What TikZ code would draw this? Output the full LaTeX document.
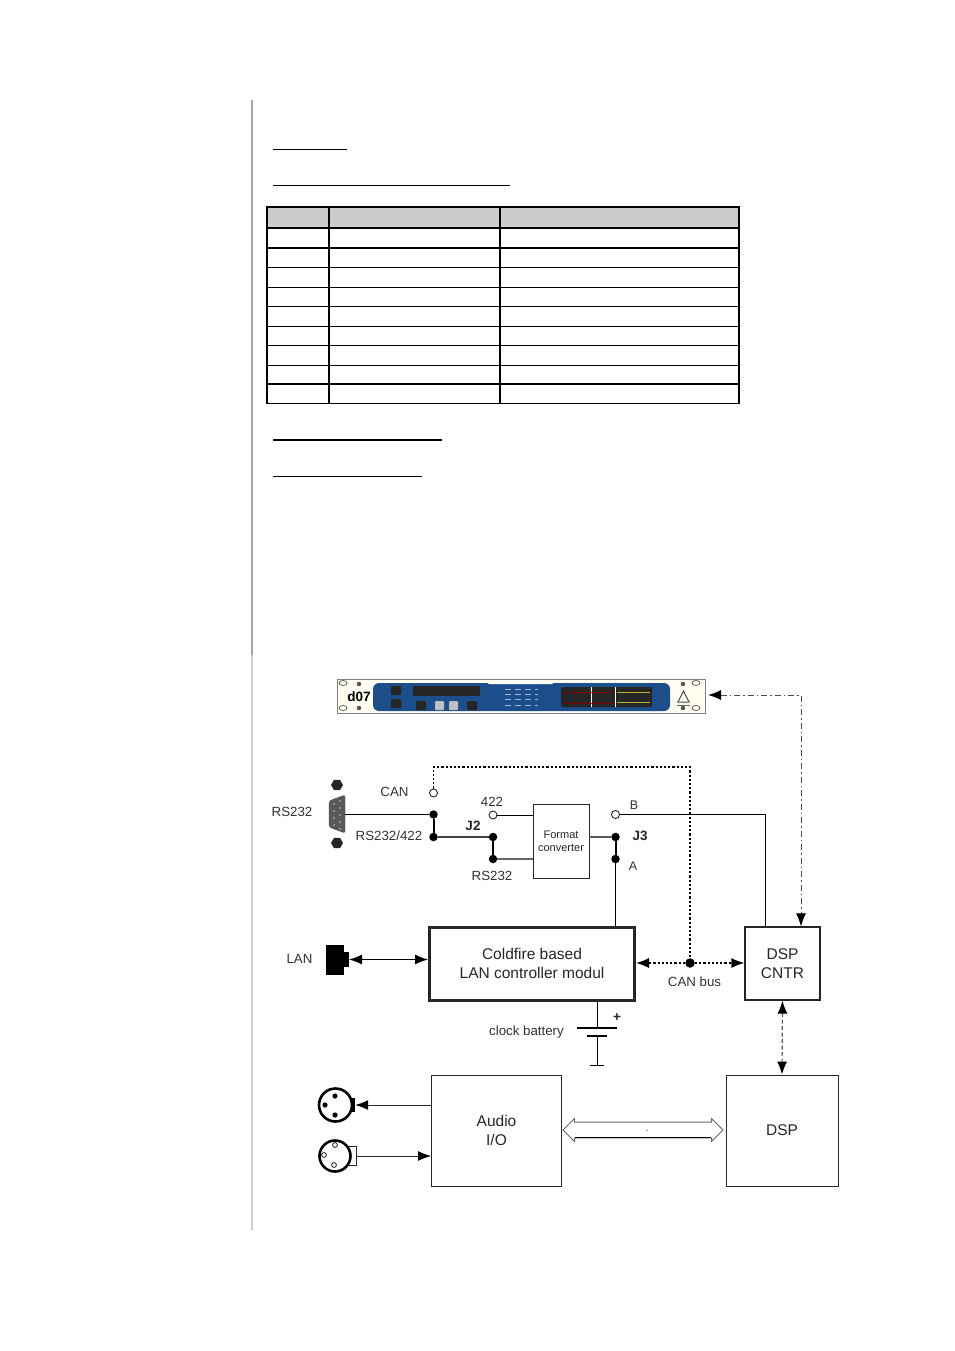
\documentclass[tikz,border=0pt]{standalone}
\usepackage{fontspec}
\setmainfont{Liberation Sans}
\usetikzlibrary{arrows.meta,positioning,shapes.arrows,shapes.geometric}
\definecolor{panelblue}{RGB}{28,78,140}
\tikzset{
  blockbox/.style={rectangle, draw=black!85, line width=1.2pt, fill=white, align=center, inner sep=0pt, font=\fontsize{15.5}{19}\selectfont, text=black!85},
  textlabel/.style={inner sep=0pt, font=\fontsize{13.3}{15}\selectfont, text=black!80},
  jlabel/.style={inner sep=0pt, font=\fontsize{13.5}{15}\selectfont\bfseries, text=black!85},
  soliddot/.style={circle, fill=black, inner sep=0pt, minimum size=8.5pt},
  opendot/.style={circle, draw=black!85, fill=white, line width=0.9pt, inner sep=0pt, minimum size=8pt},
  bothtips/.style={{Latex[length=13pt,width=10pt,color=black]}-{Latex[length=13pt,width=10pt,color=black]}},
  endtip/.style={-{Latex[length=13pt,width=10pt,color=black]}},
  canline/.style={line width=1.4pt, dash pattern=on 2.2pt off 2pt}
}
\begin{document}
\begin{tikzpicture}[x=1pt,y=-1pt]
\useasboundingbox[fill=white] (0,0) rectangle (954,1351);

% margin rule
\draw[black!35, line width=1.2pt] (252,100) -- (252,655);
\draw[black!20, line width=1.2pt] (252,655) -- (252,1230);

% underlined headings
\draw[line width=0.9pt] (273,149) -- (347,149);
\draw[line width=0.9pt] (273,185) -- (510,185);
\draw[line width=2pt] (273,439.5) -- (442,439.5);
\draw[line width=0.9pt] (273,476.5) -- (422,476.5);

% table
\fill[black!20] (267,207) rectangle (739,228);
\foreach \y/\w in {228/1.8, 248/1.8, 267/1, 287/1, 306/1, 326/1, 345/1, 365/1, 384/1.8}
  \draw[line width=\w pt] (267,\y) -- (739,\y);
\draw[line width=1.8pt] (267,207) rectangle (739,403.5);
\draw[line width=2.4pt] (329,207) -- (329,403.5);
\draw[line width=1.4pt] (500,207) -- (500,403.5);

% front panel
\draw[black!50, fill=yellow!6, line width=0.6pt] (337,679) rectangle (705,713);
\fill[panelblue, rounded corners=6pt] (373,683) rectangle (670,711);
\fill[white] (486,682) -- (489,684) -- (552,684) -- (555,682) -- cycle;
\node[inner sep=0pt, font=\fontsize{13.5}{14}\selectfont\bfseries] at (359,697) (paneltext) {d07};
\foreach \x/\y in {343/683, 343/708, 696/683, 696/708}
  \draw[black!70, line width=0.7pt] (\x,\y) ellipse (4pt and 2.5pt);
\foreach \x/\y in {359/684, 359/708, 683/684, 683/708}
  \fill[black!65] (\x,\y) circle (2.3pt);
\draw[black!70, line width=1pt] (683.5,691) -- (689,702) -- (678,702) -- cycle;
\draw[black!60, line width=0.8pt] (677,705) -- (690,705);
\foreach \x/\y in {391/686, 391/699, 416/701, 467/701}
  \fill[black!85, rounded corners=1pt] (\x,\y) rectangle ++(10,9);
\foreach \x/\y in {435/701, 449/701}
  \fill[black!25, rounded corners=1pt] (\x,\y) rectangle ++(9,9);
\fill[black!85] (413,686) rectangle (480,696);
\fill[black!85, rounded corners=2pt] (561,687) rectangle (652,707);
\draw[white, line width=0.5pt] (591,687) -- (591,707);
\draw[white, line width=0.5pt] (615,687) -- (615,707);
\draw[yellow!70!black, line width=1pt] (617,692) -- (650,692);
\draw[yellow!70!black, line width=1pt] (617,702) -- (650,702);
\draw[red!50!black, line width=0.8pt] (564,692) -- (613,692);
\draw[red!50!black, line width=0.8pt] (564,703) -- (613,703);
\foreach \y in {689,694,699,705}
  \draw[white!60!panelblue, line width=1pt, dash pattern=on 6pt off 4pt] (505,\y) -- (538,\y);

% blocks
\node[blockbox, minimum width=205pt, minimum height=73pt, line width=3pt] at (532,963.5) (coldfire) {Coldfire based\\LAN controller modul};
\node[blockbox, minimum width=75pt, minimum height=73pt] at (782.5,963.5) (cntr) {DSP\\CNTR};
\node[blockbox, minimum width=112pt, minimum height=111pt, line width=0.9pt] at (782,1130.5) (dsp) {DSP};
\node[blockbox, minimum width=130pt, minimum height=111pt, line width=0.9pt] at (496.5,1130.5) (audio) {Audio\\I/O};
\node[blockbox, minimum width=56pt, minimum height=74pt, line width=0.9pt, font=\fontsize{11}{13}\selectfont] at (561,841) (format) {Format\\converter};

% free ends and bends
\coordinate (panelport) at (708,695);
\coordinate (corner1) at (801,695);
\coordinate (corner2) at (433.5,767);
\coordinate (corner3) at (690,767);
\coordinate (corner4) at (765,814.5);
\coordinate (db9port) at (345,814.5);

% switches
\node[opendot] at (433.5,793) (cansw) {};
\node[soliddot] at (433.5,814.5) (j2a) {};
\node[soliddot] at (433.5,837) (j2b) {};
\node[opendot] at (493,815) (sw422) {};
\node[soliddot] at (493,837) (j2c) {};
\node[soliddot] at (493,859) (j2d) {};
\node[opendot] at (615.5,814.5) (swb) {};
\node[soliddot] at (615.5,837) (j3a) {};
\node[soliddot] at (615.5,859) (j3b) {};
\node[soliddot, minimum size=9.5pt] at (690,963) (canbus) {};

% RS232 connector
\fill[black!65, draw=black!75, rounded corners=2pt] (345,795) -- (345,833) -- (329,827) -- (329,801) -- cycle;
\foreach \x/\y in {334/804, 334/811, 334/818, 334/825, 340/801, 340/808, 340/815, 340/822, 340/829}
  \fill[black!20] (\x,\y) circle (0.8pt);
\node[regular polygon, regular polygon sides=6, fill=black!85, minimum size=12pt, inner sep=0pt] at (337,785) (nut1) {};
\node[regular polygon, regular polygon sides=6, fill=black!85, minimum size=12pt, inner sep=0pt] at (337,843) (nut2) {};

% LAN connector
\node[rectangle, fill=black, minimum width=18pt, minimum height=30pt, inner sep=0pt] at (335,959.5) (lanjack) {};
\node[rectangle, fill=black, minimum width=5pt, minimum height=15pt, inner sep=0pt, right=-0.5pt of lanjack] (lantab) {};

% XLR connectors
\node[circle, draw=black, fill=white, line width=2.6pt, minimum size=33pt, inner sep=0pt] at (335.5,1105) (xlrout) {};
\node[rectangle, fill=black, minimum width=3pt, minimum height=14pt, inner sep=0pt] at (353.5,1105) (xlrouttab) {};
\foreach \x/\y in {335/1096, 325/1105, 335/1115}
  \fill (\x,\y) circle (2.6pt);
\node[rectangle, draw=black!85, fill=white, line width=0.9pt, minimum width=9pt, minimum height=19pt, inner sep=0pt] at (351.5,1156) (xlrintab) {};
\node[circle, draw=black, fill=white, line width=2.6pt, minimum size=31pt, inner sep=0pt] at (335,1156) (xlrin) {};
\foreach \x/\y in {335/1145, 324/1155, 334/1165}
  \draw[line width=0.7pt] (\x,\y) circle (2.4pt);

% battery
\coordinate (batttop) at (597,1028);
\coordinate (battlow) at (597,1036);
\coordinate (battfoot) at (597,1065);
\draw[line width=1pt] (coldfire.south -| batttop) -- (batttop);
\draw[line width=2.6pt] (577,1028) -- (617,1028);
\draw[line width=2.6pt] (587,1036) -- (607,1036);
\draw[line width=1pt] (battlow) -- (battfoot);
\draw[line width=1pt] (590,1065) -- (604,1065);

% solid wiring
\draw[line width=1pt] (db9port) -- (j2a);
\draw[line width=2pt] (j2a) -- (j2b);
\draw[line width=1.1pt, black!75] (j2b) -- (j2c);
\draw[line width=2pt] (j2c) -- (j2d);
\draw[line width=1.2pt, black!60] (j2d) -- (j2d -| format.west);
\draw[line width=1pt] (sw422) -- (sw422 -| format.west);
\draw[line width=1.1pt, black!65] (j3a -| format.east) -- (j3a);
\draw[line width=2pt] (j3a) -- (j3b);
\draw[line width=1pt] (j3b) -- (j3b |- coldfire.north);
\draw[line width=1pt] (swb) -- (corner4) -- (corner4 |- cntr.north);

% arrows
\draw[bothtips, line width=1pt] (lantab.east) -- (coldfire.west |- lantab);
\draw[endtip, line width=1pt, black!85] (audio.west |- xlrout) -- (xlrouttab.east);
\draw[endtip, line width=1pt, black!85] (xlrintab.east) -- (audio.west |- xlrintab);
\draw[bothtips, line width=1.2pt, dash pattern=on 4pt off 2.5pt, black!65] (cntr.south) -- (dsp.north);
\draw[bothtips, line width=1pt, dash pattern=on 6pt off 3pt on 1.5pt off 3pt, black!70] (panelport) -- (corner1) -- (corner1 |- cntr.north);
\draw[canline] (cansw) -- (corner2) -- (corner3) -- (canbus);
\draw[endtip, canline] (canbus) -- (coldfire.east |- canbus);
\draw[endtip, canline] (canbus) -- (cntr.west |- canbus);

% audio bus
\node[double arrow, draw=black!60, fill=white, line width=0.8pt, minimum height=160pt, inner xsep=0pt, inner ysep=7.5pt, double arrow head extend=3.5pt] at (643,1130) (audiobus) {};
\node[inner sep=0pt, circle, fill=black!70, minimum size=1.5pt] at (647,1130) (busdot) {};
\draw[black, line width=1pt] (575,1137.5) -- (711,1137.5);

% labels
\node[textlabel] at (292,812) (rslabel) {RS232};
\node[textlabel] at (394.5,792) (canlabel) {CAN};
\node[textlabel] at (389,836) (rs422label) {RS232/422};
\node[textlabel] at (492,801.5) (label422) {422};
\node[textlabel] at (492,875.5) (rs232label) {RS232};
\node[textlabel, font=\fontsize{12.5}{13}\selectfont] at (634,805) (blabel) {B};
\node[textlabel, font=\fontsize{12.5}{13}\selectfont] at (633,866) (alabel) {A};
\node[jlabel] at (473,825.5) (j2label) {J2};
\node[jlabel] at (640,836) (j3label) {J3};
\node[textlabel] at (299.5,958.5) (lanlabel) {LAN};
\node[textlabel] at (526.5,1032) (battlabel) {clock battery};
\node[jlabel] at (617,1017.5) (pluslabel) {+};
\node[textlabel] at (694.5,982) (canbuslabel) {CAN bus};

\end{tikzpicture}
\end{document}
